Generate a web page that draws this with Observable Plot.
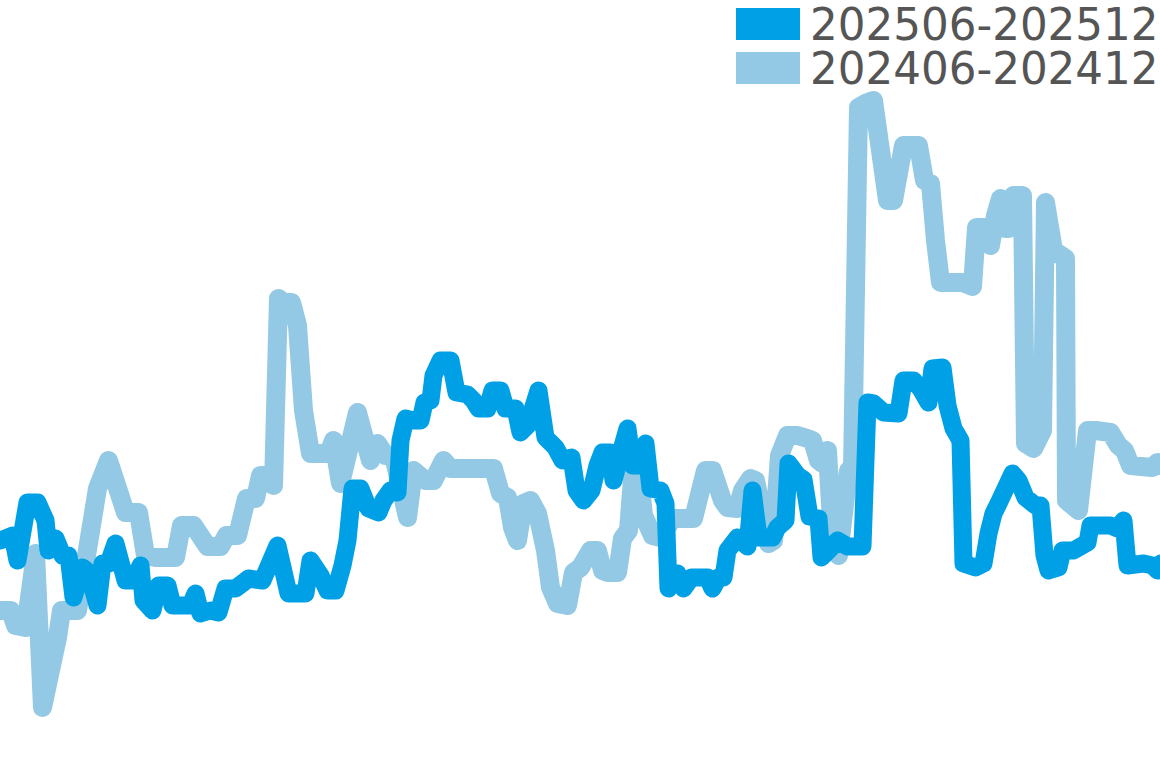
<!DOCTYPE html>
<html>
<head>
<meta charset="utf-8">
<script src="https://cdn.jsdelivr.net/npm/d3@7"></script>
<script src="https://cdn.jsdelivr.net/npm/@observablehq/plot@0.6"></script>
<style>
  html, body { margin: 0; padding: 0; background: #fff; }
  #wrap { position: relative; width: 1160px; height: 768px; overflow: hidden; }
  #legend { position: absolute; left: 0; top: 0; pointer-events: none; }
</style>
</head>
<body>
<div id="wrap"></div>
<script>
// Series labels and colours
const seriesNames = ["202506-202512", "202406-202412"];
const seriesColors = ["#00a0e6", "#93c9e4"];

// 202406-202412 (light) : time position and value
const lightT = [0,1.0,1.5,2.5,3.5,4.2,5.7,6.1,7.7,9.7,10.8,12.5,13.8,14.5,15.5,17.5,18.1,19.3,20.7,22.0,22.6,23.7,24.6,25.5,26.0,27.0,27.3,27.8,28.3,29.1,29.7,30.3,31.0,32.8,33.3,34.0,35.7,37.0,37.7,38.5,39.3,40.7,41.3,42.5,43.3,44.3,45.0,49.3,50.0,50.7,51.2,51.7,52.3,53.0,53.7,54.5,55.0,55.7,56.7,57.3,58.0,59.0,59.7,60.2,60.7,61.7,62.2,62.8,63.3,63.8,64.3,65.2,66.0,67.2,69.3,70.5,71.2,72.2,72.7,73.7,74.2,75.0,75.5,76.8,77.3,77.9,78.7,79.7,80.7,81.2,81.8,82.2,82.7,83.2,83.8,84.8,85.2,85.8,86.5,87.3,88.7,89.3,90.3,91.8,92.4,93.0,93.5,94.0,96.2,97.2,97.6,98.5,99.0,99.5,100.0,100.5,100.8,101.3,102.2,102.5,103.3,104.2,104.5,105.3,106.5,106.6,107.8,108.7,109.5,111.0,111.8,112.4,113.0,115.2,115.7,116.0];
const lightV = [13.0,13.0,11.5,11.3,18.7,3.3,10.3,13.0,13.0,25.2,28.0,22.8,22.8,18.5,18.3,18.3,21.5,21.5,19.4,19.4,20.5,20.5,24.2,24.2,26.5,26.5,25.5,44.2,43.8,43.8,41.5,33.0,28.7,28.7,30.0,25.7,32.8,28.0,29.7,28.5,28.5,22.3,27.0,26.0,26.0,28.0,27.2,27.2,24.7,24.3,21.3,20.0,23.7,24.0,22.7,19.0,15.3,13.7,13.5,16.8,17.3,19.0,19.0,17.0,16.8,16.8,20.2,21.0,27.5,27.3,22.5,20.5,20.3,22.2,22.2,27.0,27.0,24.0,23.3,23.2,25.0,26.2,26.0,19.7,20.0,28.5,30.5,30.5,30.2,30.0,28.0,27.7,29.0,20.0,18.5,27.0,27.0,63.3,63.7,64.0,54.0,54.0,59.5,59.5,56.0,55.7,50.0,45.8,45.8,45.4,51.3,51.3,49.5,52.5,54.2,51.2,51.2,54.5,54.5,29.7,29.2,31.0,53.8,49.0,48.2,24.0,23.0,31.0,31.0,30.8,29.5,29.0,27.5,27.3,27.8,27.5];

// 202506-202512 (dark) : time position and value
const darkT = [0,1.2,1.7,2.7,3.7,4.5,4.8,5.5,6.2,6.8,7.3,8.2,8.8,9.7,10.2,10.8,11.5,12.5,13.3,14.0,14.3,15.2,15.8,16.7,17.2,19.0,19.5,20.0,21.0,21.8,22.5,23.5,24.3,24.8,26.2,26.8,27.7,28.8,30.5,31.0,32.0,32.7,33.5,34.2,34.7,35.2,36.0,36.8,37.8,38.3,39.0,39.7,40.0,40.5,41.3,42.0,42.4,43.0,43.3,44.0,45.0,45.6,46.7,47.3,47.8,48.7,49.2,50.0,50.5,51.5,52.0,52.7,53.8,54.5,55.5,56.2,57.1,57.6,58.3,59.1,59.7,60.2,61.0,61.3,62.0,62.7,63.2,64.0,64.5,65.0,66.0,66.5,66.8,67.7,68.3,69.1,70.7,71.2,71.8,72.3,72.7,73.7,74.7,75.2,75.8,77.2,77.7,78.5,78.8,79.7,80.3,80.9,81.8,82.1,82.8,83.7,84.7,86.2,86.7,87.3,88.3,89.8,90.3,91.3,92.0,92.8,93.2,94.2,94.7,95.3,96.0,96.3,97.5,98.3,98.8,99.3,99.8,100.5,101.2,101.8,102.5,103.5,104.0,104.4,104.8,105.8,106.2,107.3,108.7,109.0,111.0,111.7,112.3,112.7,114.3,115.2,115.7,116.0];
const darkV = [20.0,20.5,18.0,23.8,23.8,22.0,19.0,20.2,18.5,18.5,14.3,17.3,16.8,13.5,17.7,17.7,19.7,16.0,16.0,17.5,14.0,13.0,15.5,15.5,13.5,13.5,14.7,12.7,13.0,12.8,15.2,15.2,15.8,16.2,16.0,17.4,19.5,14.7,14.7,18.0,16.5,15.0,15.0,17.5,20.0,25.2,25.2,23.2,22.8,24.0,25.0,24.8,30.0,32.2,32.0,32.0,33.8,34.0,36.5,38.0,38.0,34.8,34.6,34.0,33.2,33.2,35.0,35.0,33.2,33.2,30.8,31.5,35.0,30.3,29.3,28.0,28.3,25.0,24.0,25.0,27.5,28.8,28.8,26.0,28.7,31.2,27.5,27.5,29.7,25.2,25.0,23.7,15.2,16.7,15.2,16.3,16.3,15.2,16.3,16.3,19.0,20.3,19.4,25.0,20.3,20.3,21.3,22.0,27.7,26.5,26.1,22.4,22.2,18.3,19.0,20.0,19.4,19.4,33.8,33.7,32.8,32.7,36.0,36.0,35.2,33.8,37.2,37.3,33.5,31.2,30.0,17.7,17.3,17.7,20.7,22.7,23.7,25.2,26.7,26.0,24.3,23.5,23.5,18.5,17.0,17.3,19.0,19.0,19.8,21.5,21.5,21.2,22.0,17.5,17.7,17.5,17.0,17.7];

const lightData = lightT.map((t, i) => ({t, v: lightV[i], series: seriesNames[1]}));
const darkData = darkT.map((t, i) => ({t, v: darkV[i], series: seriesNames[0]}));

const chart = Plot.plot({
  width: 1160,
  height: 768,
  margin: 0,
  x: {domain: [0, 116], axis: null},
  y: {domain: [-2.8, 74], axis: null},
  marks: [
    Plot.line(lightData, {x: "t", y: "v", stroke: seriesColors[1], strokeWidth: 19, strokeLinejoin: "round", strokeLinecap: "round"}),
    Plot.line(darkData, {x: "t", y: "v", stroke: seriesColors[0], strokeWidth: 18, strokeLinejoin: "round", strokeLinecap: "round"})
  ]
});
document.getElementById("wrap").appendChild(chart);

// Legend overlay (top right)
const leg = d3.select("#wrap").append("svg")
  .attr("id", "legend")
  .attr("width", 1160).attr("height", 100);
const rows = leg.selectAll("g").data(seriesNames).join("g")
  .attr("transform", (d, i) => `translate(736, ${8 + i * 44})`);
rows.append("rect").attr("width", 64).attr("height", 32)
  .attr("fill", (d, i) => seriesColors[i]);
rows.append("text").attr("x", 74).attr("y", 31.5)
  .attr("font-family", "DejaVu Sans, sans-serif").attr("font-size", 43.6)
  .attr("fill", "#555").text(d => d);
</script>
</body>
</html>
